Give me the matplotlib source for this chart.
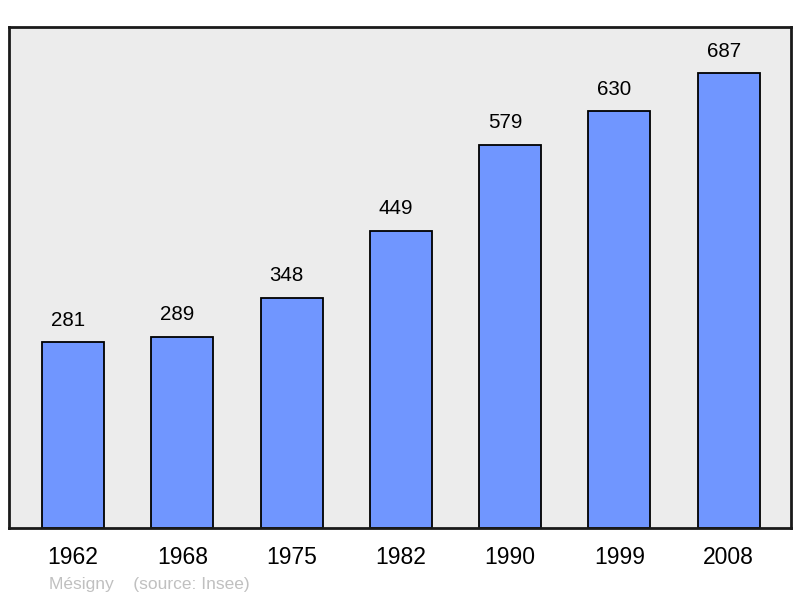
import matplotlib.pyplot as plt

# Population data
years = ['1962', '1968', '1975', '1982', '1990', '1999', '2008']
population = [281, 289, 348, 449, 579, 630, 687]

plt.rcParams['font.family'] = ['Liberation Sans', 'DejaVu Sans']

fig = plt.figure(figsize=(8, 5.98), dpi=100)
ax = fig.add_axes([8.5 / 800, 1 - 528 / 598, 782.5 / 800, 501 / 598])
ax.set_facecolor('#ececec')

x = range(len(years))
bars = ax.bar(x, population, width=0.567, color='#7096ff', edgecolor='black',
              linewidth=1.3, zorder=2)

# value labels sit a little left of bar centre, as in the original
for xi, val in zip(x, population):
    ax.annotate(str(val), (xi, val), xytext=(-3.6, 9), textcoords='offset points',
                ha='center', va='bottom', fontsize=14.8, color='black')

ax.set_xlim(-0.59, 6.57)
ax.set_ylim(0, 757)
ax.set_xticks(list(x))
ax.set_xticklabels(years, fontsize=16.5)
ax.set_yticks([])
ax.tick_params(axis='x', length=0, pad=13)

for s in ax.spines.values():
    s.set_linewidth(2)
    s.set_color('#1a1a1a')

fig.text(49 / 800, 1 - 584 / 598, 'Mésigny    (source: Insee)', fontsize=12.5,
         color='#c0c0c0', ha='left', va='center')

plt.savefig('out.png', dpi=100)
plt.close()
